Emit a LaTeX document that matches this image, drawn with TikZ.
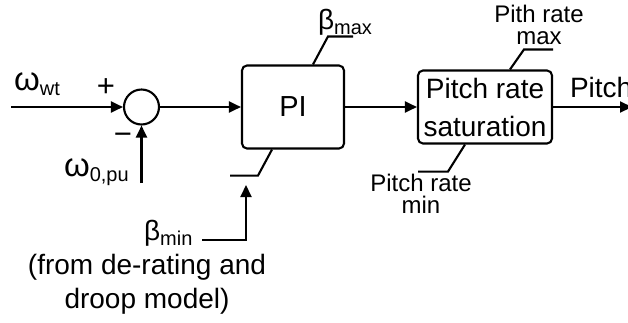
\documentclass[tikz,border=0pt]{standalone}
\usepackage{fontspec}
\setmainfont{Liberation Sans}
\usepackage{tikz}
\usetikzlibrary{arrows.meta, calc, positioning}

\newcommand{\lowsub}[1]{\raisebox{-5pt}{\fontsize{20}{20}\selectfont #1}}
\newcommand{\bigomega}{{\fontsize{33}{33}\selectfont ω}}

\begin{document}
\begin{tikzpicture}[x=1pt, y=-1pt, line width=2.1pt,
    blk/.style={draw, rounded corners=5pt, inner sep=0pt, align=center},
    sumnode/.style={draw, circle, inner sep=0pt, minimum size=35pt},
    sig/.style={-{Triangle[length=12pt, width=11pt]}},
    lbl/.style={font=\fontsize{28}{34}\selectfont, inner sep=0pt},
    small/.style={font=\fontsize{24}{22}\selectfont, inner sep=0pt, align=center}]
  \useasboundingbox (0,0) rectangle (628,322);
  %% blocks: summing point, PI, rate limiter
  \node[sumnode] (sum) at (141.5,107) {};
  \node[blk, minimum width=102pt, minimum height=83pt,
        font=\fontsize{29}{29}\selectfont] (pi) at (293,107) {PI};
  \node[blk, minimum width=134pt, minimum height=73pt,
        font=\fontsize{28}{38}\selectfont] (sat) at (485,107) {Pitch rate\\saturation};
  %% free ends
  \coordinate (win) at (11,107);
  \coordinate (wfb) at (141.5,183);
  \coordinate (bminin) at (202,240);
  \coordinate (bmintip) at (246,185);
  \coordinate (out) at (632,107);
  %% signals
  \draw[sig] (win) -- (sum.west);
  \draw[sig] (wfb) -- (sum.south);
  \draw[sig] (sum.east) -- (pi.west);
  \draw[sig] (pi.east) -- (sat.west);
  \draw[sig] (sat.east) -- (out);
  \draw[sig] (bminin) -| (bmintip);
  %% limits
  \draw ($(pi.north)+(20,0)$) -- ++(15,-28) -- ++(25,0);
  \draw ($(pi.south)+(-21,0)$) -- ++(-14,26) -- ++(-28,0);
  \draw ($(sat.north)+(25,0)$) -- ++(14,-20) -- ++(29,0);
  \draw ($(sat.south)+(-20,0)$) -- ++(-17,27) -- ++(-30,0);
  %% labels
  \node[lbl, anchor=base west] (wwt) at (13,90) {\bigomega\lowsub{wt}};
  \node[lbl, font=\fontsize{31}{31}\selectfont] (plus) at (106,88) {+};
  \node[lbl, font=\fontsize{31}{31}\selectfont] (minus) at (123,139) {−};
  \node[lbl, anchor=base west] (w0) at (63,176) {\bigomega\lowsub{0,pu}};
  \node[lbl, anchor=base west] (bmax) at (317,29) {β\lowsub{max}};
  \node[lbl, anchor=base west] (bmin) at (143,240) {β\lowsub{min}};
  \node[lbl, align=center] (note) at (147,284) {(from de-rating and\\droop model)};
  \node[lbl, anchor=base west] (pitch) at (569,97) {Pitch};
  \node[small] (ratemax) at (539,25) {Pith rate\\max};
  \node[small] (ratemin) at (421,194) {Pitch rate\\min};
\end{tikzpicture}
\end{document}
